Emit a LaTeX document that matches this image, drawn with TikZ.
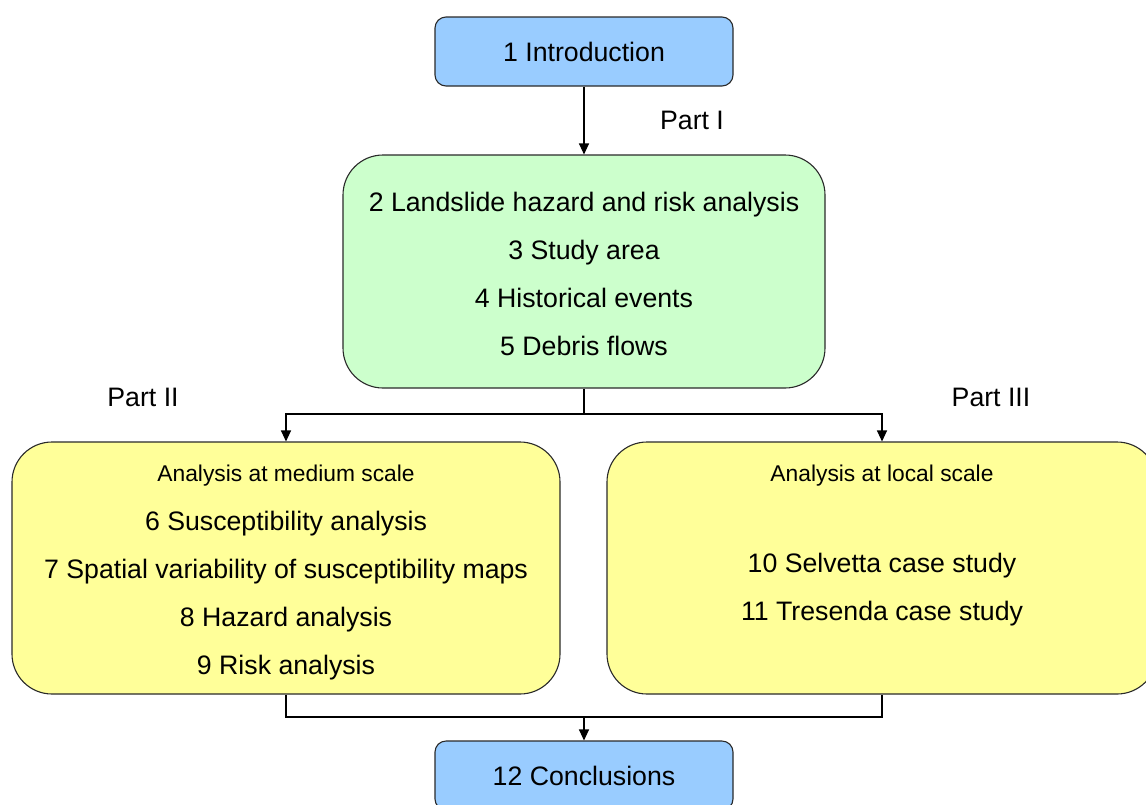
\documentclass[tikz,border=0pt]{standalone}
\usepackage{fontspec}
\setmainfont{Liberation Sans}
\usetikzlibrary{arrows.meta}
\definecolor{boxblue}{HTML}{99CCFF}
\definecolor{boxgreen}{HTML}{CCFFCC}
\definecolor{boxyellow}{HTML}{FFFF99}
\definecolor{edge}{HTML}{2A2A2A}
\begin{document}
\begin{tikzpicture}[x=1pt,y=-1pt,
  chapbox/.style={draw=edge,line width=1.1pt,rectangle,inner sep=0pt},
  big/.style={font=\fontsize{26.7}{30}\selectfont,anchor=base,inner sep=0pt},
  small/.style={font=\fontsize{22.8}{26}\selectfont,anchor=base,inner sep=0pt},
  flow/.style={line width=1.1pt,draw=black},
  tip/.style={-{Triangle[width=10pt,length=11pt]}}]
\useasboundingbox (0,0) rectangle (1146,804);
\clip (0,0) rectangle (1146,804);

% chapter boxes
\node[chapbox,fill=boxblue,rounded corners=11pt,minimum width=298pt,minimum height=69pt]
  (intro) at (584,51.5) {};
\node[chapbox,fill=boxgreen,rounded corners=40pt,minimum width=482pt,minimum height=233pt]
  (partone) at (584,271.5) {};
\node[chapbox,fill=boxyellow,rounded corners=40pt,minimum width=548pt,minimum height=252pt]
  (medium) at (286,568) {};
\node[chapbox,fill=boxyellow,rounded corners=40pt,minimum width=550pt,minimum height=252pt]
  (local) at (882,568) {};
\node[chapbox,fill=boxblue,rounded corners=11pt,minimum width=298pt,minimum height=69pt]
  (concl) at (584,775.5) {};

% texts
\node[big] (tintro) at (584,61) {1 Introduction};
\node[big] (tpi) at (692,129.5) {Part I};
\node[big] (t2) at (584,211) {2 Landslide hazard and risk analysis};
\node[big] (t3) at (584,259) {3 Study area};
\node[big] (t4) at (584,307) {4 Historical events};
\node[big] (t5) at (584,355) {5 Debris flows};
\node[big] (tpii) at (143,406) {Part II};
\node[big] (tpiii) at (991,406) {Part III};
\node[small] (tmed) at (286,481.5) {Analysis at medium scale};
\node[big] (t6) at (286,530) {6 Susceptibility analysis};
\node[big] (t7) at (286,578) {7 Spatial variability of susceptibility maps};
\node[big] (t8) at (286,626) {8 Hazard analysis};
\node[big] (t9) at (286,674) {9 Risk analysis};
\node[small] (tloc) at (882,481.5) {Analysis at local scale};
\node[big] (t10) at (882,572) {10 Selvetta case study};
\node[big] (t11) at (882,620) {11 Tresenda case study};
\node[big] (t12) at (584,785) {12 Conclusions};

% connectors
\coordinate (split) at (584,414);
\coordinate (join) at (584,717);
\draw[flow,tip] (intro.south) -- (partone.north);
\draw[flow] (partone.south) -- (split);
\draw[flow,tip] (split) -| (medium.north);
\draw[flow,tip] (split) -| (local.north);
\draw[flow] (medium.south) |- (join) -| (local.south);
\draw[flow,tip] (join) -- (concl.north);
\end{tikzpicture}
\end{document}
